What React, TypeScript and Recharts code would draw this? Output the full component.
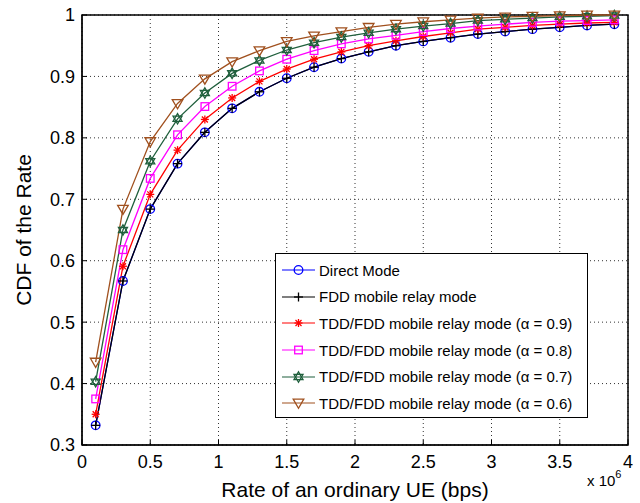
import {
  LineChart,
  Line,
  XAxis,
  YAxis,
  CartesianGrid,
  ReferenceArea,
} from "recharts";

const FONT = '"Liberation Sans", Arial, sans-serif';

// rate in units of 10^6 bps
const rate = [0.1, 0.3, 0.5, 0.7, 0.9, 1.1, 1.3, 1.5, 1.7, 1.9, 2.1, 2.3, 2.5, 2.7, 2.9, 3.1, 3.3, 3.5, 3.7, 3.9];

const directMode = [0.332, 0.567, 0.684, 0.758, 0.809, 0.848, 0.875, 0.897, 0.915, 0.929, 0.94, 0.95, 0.957, 0.963, 0.969, 0.973, 0.977, 0.98, 0.983, 0.985];
const fddRelay = [0.332, 0.567, 0.684, 0.758, 0.809, 0.848, 0.875, 0.897, 0.915, 0.929, 0.94, 0.95, 0.957, 0.963, 0.969, 0.973, 0.977, 0.98, 0.983, 0.985];
const alpha09 = [0.35, 0.591, 0.708, 0.78, 0.83, 0.865, 0.892, 0.912, 0.928, 0.94, 0.95, 0.958, 0.965, 0.971, 0.977, 0.98, 0.983, 0.985, 0.987, 0.988];
const alpha08 = [0.375, 0.618, 0.734, 0.805, 0.851, 0.884, 0.909, 0.928, 0.942, 0.953, 0.961, 0.967, 0.973, 0.978, 0.982, 0.985, 0.988, 0.99, 0.991, 0.992];
const alpha07 = [0.403, 0.65, 0.762, 0.831, 0.873, 0.905, 0.926, 0.943, 0.955, 0.964, 0.971, 0.977, 0.982, 0.986, 0.991, 0.993, 0.995, 0.997, 0.998, 0.999];
const alpha06 = [0.435, 0.684, 0.794, 0.856, 0.896, 0.924, 0.942, 0.957, 0.966, 0.973, 0.98, 0.985, 0.989, 0.992, 0.995, 0.997, 0.998, 0.999, 1.0, 1.0];

const xTicks = [0, 0.5, 1, 1.5, 2, 2.5, 3, 3.5, 4];
const yTicks = [0.3, 0.4, 0.5, 0.6, 0.7, 0.8, 0.9, 1];

const series = [
  { key: "direct", name: "Direct Mode", values: directMode, color: "#0000ff", marker: "circle" },
  { key: "fdd", name: "FDD mobile relay mode", values: fddRelay, color: "#000000", marker: "plus" },
  { key: "a09", name: "TDD/FDD mobile relay mode (\u03b1 = 0.9)", values: alpha09, color: "#ff0000", marker: "star" },
  { key: "a08", name: "TDD/FDD mobile relay mode (\u03b1 = 0.8)", values: alpha08, color: "#ff00ff", marker: "square" },
  { key: "a07", name: "TDD/FDD mobile relay mode (\u03b1 = 0.7)", values: alpha07, color: "#1f5f3c", marker: "hexagram" },
  { key: "a06", name: "TDD/FDD mobile relay mode (\u03b1 = 0.6)", values: alpha06, color: "#a0501e", marker: "triangle" },
];

const data = rate.map((r, i) => {
  const row: Record<string, number> = { rate: r };
  series.forEach((s) => (row[s.key] = s.values[i]));
  return row;
});

function Marker({ cx, cy, shape, color }: { cx: number; cy: number; shape: string; color: string }) {
  const p = { stroke: color, strokeWidth: 1.3, fill: "none" };
  switch (shape) {
    case "circle":
      return <circle cx={cx} cy={cy} r={4.3} {...p} />;
    case "plus":
      return (
        <g {...p}>
          <line x1={cx - 4.5} y1={cy} x2={cx + 4.5} y2={cy} />
          <line x1={cx} y1={cy - 4.5} x2={cx} y2={cy + 4.5} />
        </g>
      );
    case "star":
      return (
        <g {...p}>
          <line x1={cx - 4} y1={cy} x2={cx + 4} y2={cy} />
          <line x1={cx} y1={cy - 4} x2={cx} y2={cy + 4} />
          <line x1={cx - 3} y1={cy - 3} x2={cx + 3} y2={cy + 3} />
          <line x1={cx - 3} y1={cy + 3} x2={cx + 3} y2={cy - 3} />
        </g>
      );
    case "square":
      return <rect x={cx - 3.8} y={cy - 3.8} width={7.6} height={7.6} {...p} />;
    case "hexagram": {
      const tri = (rot: number) =>
        [0, 1, 2]
          .map((k) => {
            const a = rot + (k * 2 * Math.PI) / 3;
            return `${cx + 5.2 * Math.sin(a)},${cy - 5.2 * Math.cos(a)}`;
          })
          .join(" ");
      return (
        <g {...p}>
          <polygon points={tri(0)} />
          <polygon points={tri(Math.PI)} />
        </g>
      );
    }
    case "triangle":
      return <polygon points={`${cx - 5.3},${cy - 3.8} ${cx + 5.3},${cy - 3.8} ${cx},${cy + 5.3}`} {...p} />;
    default:
      return null;
  }
}

function LegendBox() {
  return (
    <div
      style={{
        position: "absolute",
        left: 275,
        top: 253,
        border: "1.2px solid #000",
        background: "#fff",
        width: 313,
        height: 165,
        boxSizing: "border-box",
        padding: "3px 0 0 6px",
        fontFamily: FONT,
        fontSize: 15,
        color: "#000",
      }}
    >
      {series.map((s) => (
        <div key={s.key} style={{ display: "flex", alignItems: "center", height: 26.6, whiteSpace: "nowrap" }}>
          <svg width={34} height={14} style={{ marginRight: 3 }}>
            <line x1={0} y1={7} x2={33} y2={7} stroke={s.color} strokeWidth={1.2} />
            <Marker cx={16.5} cy={7} shape={s.marker} color={s.color} />
          </svg>
          <span>{s.name}</span>
        </div>
      ))}
    </div>
  );
}

export default function App() {
  return (
    <div style={{ position: "absolute", left: 0, top: 0, width: 640, height: 503, background: "#fff" }}>
      <LineChart width={640} height={503} data={data} margin={{ top: 15, right: 12, bottom: 0, left: 0 }}>
        <CartesianGrid stroke="#333" strokeDasharray="1 3" strokeWidth={1} />
        <XAxis
          dataKey="rate"
          type="number"
          domain={[0, 4]}
          ticks={xTicks}
          interval={0}
          height={58}
          tickSize={-5}
          tickMargin={15}
          stroke="#000"
          tick={{ fill: "#000", fontSize: 18, fontFamily: FONT }}
          label={{ value: "Rate of an ordinary UE (bps)", position: "insideBottom", offset: 6, fill: "#000", fontSize: 21, fontFamily: FONT }}
        />
        <XAxis xAxisId="top" orientation="top" type="number" domain={[0, 4]} ticks={xTicks} interval={0} height={0} tickSize={-5} stroke="#000" tick={() => <g />} />
        <YAxis
          type="number"
          domain={[0.3, 1]}
          ticks={yTicks}
          interval={0}
          width={82}
          tickSize={-5}
          tickMargin={12}
          stroke="#000"
          tick={{ fill: "#000", fontSize: 18, fontFamily: FONT }}
          label={{ value: "CDF of the Rate", angle: -90, position: "insideLeft", offset: 24, fill: "#000", fontSize: 21, fontFamily: FONT, style: { textAnchor: "middle" } }}
        />
        <YAxis yAxisId="right" orientation="right" type="number" domain={[0.3, 1]} ticks={yTicks} interval={0} width={0} tickSize={-5} stroke="#000" tick={() => <g />} />
        <ReferenceArea x1={0} x2={4} y1={0.3} y2={1} fill="none" stroke="#000" strokeWidth={1.5} ifOverflow="visible" />
        {series.map((s) => (
          <Line
            key={s.key}
            dataKey={s.key}
            name={s.name}
            type="linear"
            stroke={s.color}
            strokeWidth={1.3}
            isAnimationActive={false}
            dot={(props: any) => <Marker key={`${s.key}-${props.index}`} cx={props.cx} cy={props.cy} shape={s.marker} color={s.color} />}
          />
        ))}
      </LineChart>
      <LegendBox />
      <div style={{ position: "absolute", left: 587, top: 470, fontFamily: FONT, fontSize: 15, color: "#000" }}>
        x 10<sup style={{ fontSize: 11, position: "relative", top: -2 }}>6</sup>
      </div>
    </div>
  );
}
